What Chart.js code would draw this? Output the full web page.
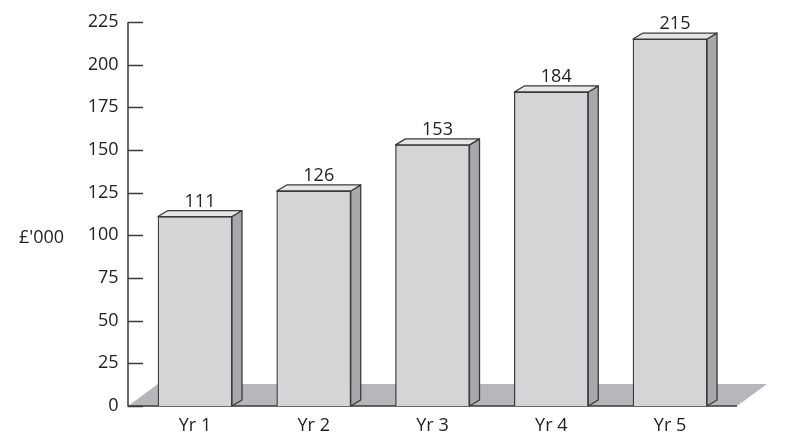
<!DOCTYPE html>
<html>
<head>
<meta charset="utf-8">
<script src="https://cdn.jsdelivr.net/npm/chart.js@4"></script>
<style>
  html, body { margin: 0; padding: 0; background: #ffffff; }
  #wrap { width: 799px; height: 445px; }
</style>
</head>
<body>
<div id="wrap"><canvas id="c" width="799" height="445"></canvas></div>
<script>
const categories = ["Yr 1", "Yr 2", "Yr 3", "Yr 4", "Yr 5"];
const values = [111, 126, 153, 184, 215];
const yTicks = [0, 25, 50, 75, 100, 125, 150, 175, 200, 225];
const unitLabel = "£'000";

const FONT = "'Open Sans', 'DejaVu Sans', sans-serif";
const DEPTH_X = 10, DEPTH_Y = 6;

const deco = {
  id: 'deco',
  beforeDatasetsDraw(chart) {
    const ctx = chart.ctx, ca = chart.chartArea, y = chart.scales.y;
    const base = y.getPixelForValue(0);
    const axL = ca.left - 7.6, axR = ca.right + 7.6;
    ctx.save();
    // floor
    ctx.fillStyle = '#b6b7ba';
    ctx.beginPath();
    ctx.moveTo(axL, base);
    ctx.lineTo(axR, base);
    ctx.lineTo(axR + 30, base - 22);
    ctx.lineTo(axL + 30, base - 22);
    ctx.closePath();
    ctx.fill();
    // axes
    ctx.strokeStyle = '#3a3a3a';
    ctx.lineWidth = 1.5;
    ctx.beginPath();
    ctx.moveTo(axL, y.getPixelForValue(yTicks[yTicks.length - 1]));
    ctx.lineTo(axL, base);
    ctx.lineTo(axR, base);
    ctx.stroke();
    yTicks.forEach(v => {
      const py = Math.round(y.getPixelForValue(v)) + 0.5;
      ctx.beginPath();
      ctx.moveTo(axL, py);
      ctx.lineTo(axL + 15, py);
      ctx.stroke();
    });
    // unit label
    ctx.fillStyle = '#222';
    ctx.font = '18px ' + FONT;
    ctx.textAlign = 'left';
    ctx.textBaseline = 'alphabetic';
    ctx.fillText(unitLabel, 19, 243);
    ctx.restore();
  },
  afterDatasetsDraw(chart) {
    const ctx = chart.ctx;
    const meta = chart.getDatasetMeta(0);
    ctx.save();
    ctx.strokeStyle = '#3a3a3a';
    ctx.lineWidth = 1.3;
    ctx.lineJoin = 'round';
    meta.data.forEach((bar, i) => {
      const l = bar.x - bar.width / 2, r = bar.x + bar.width / 2;
      const t = bar.y, b = bar.base;
      // side face
      ctx.fillStyle = '#a7a8ab';
      ctx.beginPath();
      ctx.moveTo(r, t);
      ctx.lineTo(r + DEPTH_X, t - DEPTH_Y);
      ctx.lineTo(r + DEPTH_X, b - DEPTH_Y);
      ctx.lineTo(r, b);
      ctx.closePath();
      ctx.fill(); ctx.stroke();
      // top face
      ctx.fillStyle = '#e6e6e8';
      ctx.beginPath();
      ctx.moveTo(l, t);
      ctx.lineTo(l + DEPTH_X, t - DEPTH_Y);
      ctx.lineTo(r + DEPTH_X, t - DEPTH_Y);
      ctx.lineTo(r, t);
      ctx.closePath();
      ctx.fill(); ctx.stroke();
      // value label
      ctx.fillStyle = '#222';
      ctx.font = '18px ' + FONT;
      ctx.textAlign = 'center';
      ctx.textBaseline = 'alphabetic';
      ctx.fillText(String(values[i]), bar.x + 5, t - 10);
    });
    ctx.restore();
  }
};

new Chart(document.getElementById('c'), {
  type: 'bar',
  data: {
    labels: categories,
    datasets: [{
      data: values,
      backgroundColor: '#d4d5d7',
      borderColor: '#3a3a3a',
      borderWidth: 1.3,
      borderSkipped: 'bottom',
      barThickness: 74
    }]
  },
  options: {
    responsive: false,
    animation: false,
    devicePixelRatio: 1,
    layout: { padding: { left: 88.6, right: 69.6, top: 22, bottom: 0 } },
    plugins: { legend: { display: false }, tooltip: { enabled: false } },
    scales: {
      x: {
        grid: { display: false, drawTicks: false },
        border: { display: false },
        ticks: { color: '#222', font: { family: FONT, size: 18 }, padding: 9 },
        afterFit: s => { s.height = 39; s.paddingLeft = 0; s.paddingRight = 0; }
      },
      y: {
        min: 0, max: 225,
        grid: { display: false, drawTicks: false },
        border: { display: false },
        ticks: { stepSize: 25, color: '#222', font: { family: FONT, size: 18 }, padding: 17 },
        afterFit: s => { s.width = 47; s.paddingTop = 0; s.paddingBottom = 0; }
      }
    }
  },
  plugins: [deco]
});
</script>
</body>
</html>
